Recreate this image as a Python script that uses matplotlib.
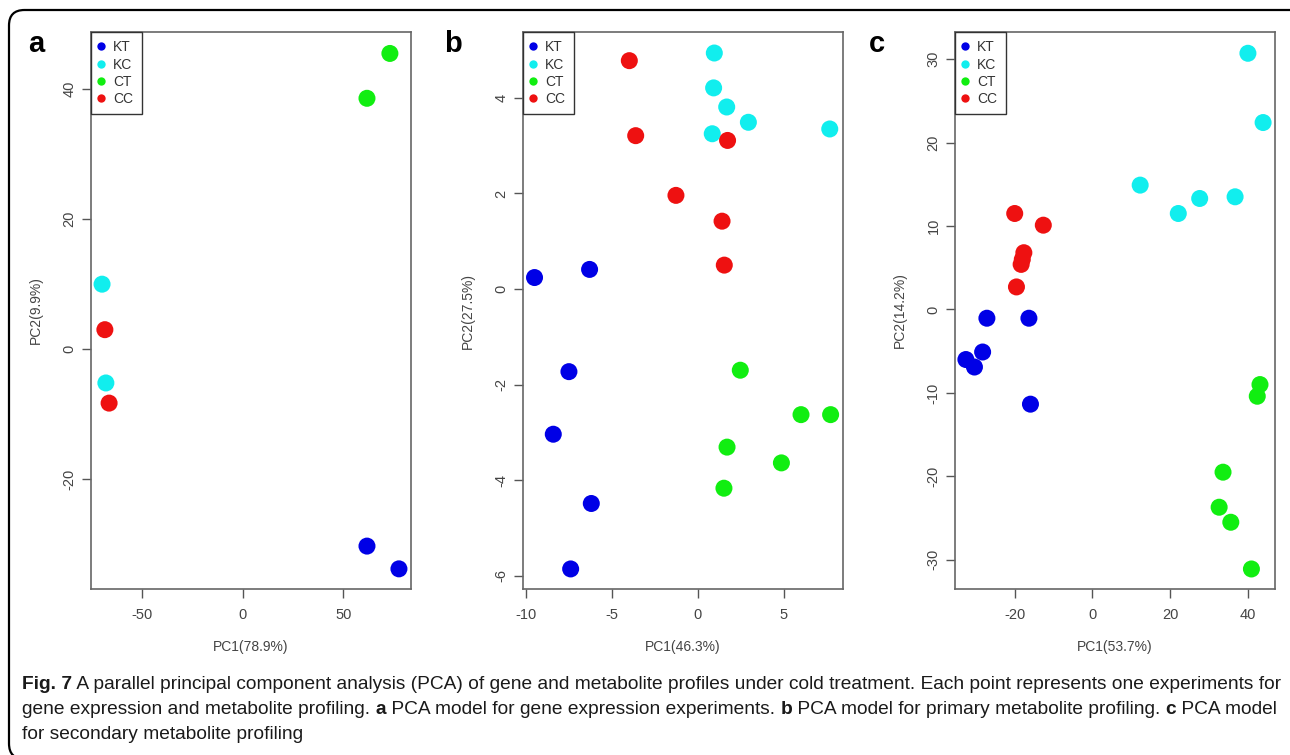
import matplotlib
matplotlib.use("Agg")
import matplotlib.pyplot as plt
from matplotlib.lines import Line2D
from matplotlib.patches import FancyBboxPatch

# data
groups = ["KT", "KC", "CT", "CC"]
colors = {"KT": "#0000E6", "KC": "#11EEEE", "CT": "#11EE11", "CC": "#EE1111"}

# panel a: gene expression
a_KT_x = [61.7, 77.6]
a_KT_y = [-30.3, -33.8]
a_KC_x = [-70.1, -68.2]
a_KC_y = [10.0, -5.2]
a_CT_x = [73.1, 61.7]
a_CT_y = [45.5, 38.6]
a_CC_x = [-68.7, -66.6]
a_CC_y = [3.0, -8.3]

# panel b: primary metabolites
b_KT_x = [-9.50, -6.30, -7.50, -8.41, -6.20, -7.40]
b_KT_y = [0.24, 0.41, -1.73, -3.04, -4.49, -5.86]
b_KC_x = [0.95, 0.91, 1.67, 2.93, 0.83, 7.66]
b_KC_y = [4.94, 4.21, 3.81, 3.49, 3.25, 3.35]
b_CT_x = [2.46, 5.99, 7.71, 1.69, 4.85, 1.51]
b_CT_y = [-1.70, -2.63, -2.63, -3.31, -3.64, -4.17]
b_CC_x = [-3.99, -3.62, 1.72, -1.28, 1.40, 1.53]
b_CC_y = [4.78, 3.21, 3.11, 1.96, 1.42, 0.50]

# panel c: secondary metabolites
c_KT_x = [-27.1, -16.3, -28.2, -32.5, -30.3, -15.9]
c_KT_y = [-1.05, -1.05, -5.1, -6.0, -6.9, -11.35]
c_KC_x = [40.0, 43.9, 12.3, 22.1, 27.6, 36.7]
c_KC_y = [30.7, 22.4, 14.9, 11.5, 13.3, 13.5]
c_CT_x = [43.1, 42.4, 33.6, 32.6, 35.6, 40.9]
c_CT_y = [-9.0, -10.4, -19.5, -23.7, -25.5, -31.1]
c_CC_x = [-19.95, -12.6, -17.6, -18.0, -18.3, -19.5]
c_CC_y = [11.5, 10.1, 6.8, 6.0, 5.4, 2.7]

panels = [
    ("a", {"KT": (a_KT_x, a_KT_y), "KC": (a_KC_x, a_KC_y), "CT": (a_CT_x, a_CT_y), "CC": (a_CC_x, a_CC_y)},
     "PC1(78.9%)", "PC2(9.9%)", (-75.6, 83.6), (-36.9, 48.8), [-50, 0, 50], [-20, 0, 20, 40]),
    ("b", {"KT": (b_KT_x, b_KT_y), "KC": (b_KC_x, b_KC_y), "CT": (b_CT_x, b_CT_y), "CC": (b_CC_x, b_CC_y)},
     "PC1(46.3%)", "PC2(27.5%)", (-10.17, 8.43), (-6.28, 5.38), [-10, -5, 0, 5], [-6, -4, -2, 0, 2, 4]),
    ("c", {"KT": (c_KT_x, c_KT_y), "KC": (c_KC_x, c_KC_y), "CT": (c_CT_x, c_CT_y), "CC": (c_CC_x, c_CC_y)},
     "PC1(53.7%)", "PC2(14.2%)", (-35.3, 46.96), (-33.5, 33.25), [-20, 0, 20, 40], [-30, -20, -10, 0, 10, 20, 30]),
]

caption = [
    [("Fig. 7", True), (" A parallel principal component analysis (PCA) of gene and metabolite profiles under cold treatment. Each point represents one experiments for", False)],
    [("gene expression and metabolite profiling. ", False), ("a", True), (" PCA model for gene expression experiments. ", False),
     ("b", True), (" PCA model for primary metabolite profiling. ", False), ("c", True), (" PCA model", False)],
    [("for secondary metabolite profiling", False)],
]

W, H = 1290, 755
fig = plt.figure(figsize=(W / 100, H / 100), dpi=100)
plt.rcParams['font.family'] = ['Liberation Sans', 'DejaVu Sans']

# rounded frame round the whole figure
frame = FancyBboxPatch((9 / W, -4 / H), (W + 30) / W, (H - 6) / H,
                       boxstyle="round,pad=0,rounding_size=0.012",
                       transform=fig.transFigure, fill=False,
                       edgecolor="black", linewidth=1.6, mutation_aspect=W / H)
fig.patches.append(frame)

lefts = [91, 523, 955]
labelx = [28, 444, 869]
for i, (tag, data, xlab, ylab, xlim, ylim, xt, yt) in enumerate(panels):
    ax = fig.add_axes([lefts[i] / W, (H - 589) / H, 320 / W, 557 / H])
    for g in groups:
        xs, ys = data[g]
        ax.scatter(xs, ys, s=150, color=colors[g], edgecolors="none", zorder=3)
    ax.set_xlim(*xlim)
    ax.set_ylim(*ylim)
    ax.set_xticks(xt)
    ax.set_yticks(yt)
    ax.set_xticklabels([str(v) for v in xt])
    ax.set_yticklabels([str(v) for v in yt], rotation=90, va="center")
    ax.tick_params(direction="out", length=6.5, width=1, color="#555555",
                   labelsize=10.5, labelcolor="#444444")
    ax.tick_params(axis="x", pad=7)
    ax.tick_params(axis="y", pad=4)
    for sp in ax.spines.values():
        sp.set_color("#666666")
        sp.set_linewidth(1.2)
    ax.set_xlabel(xlab, fontsize=10, color="#444444", labelpad=13)
    ax.set_ylabel(ylab, fontsize=10, color="#444444", labelpad=14)

    handles = [Line2D([], [], marker="o", linestyle="none", markersize=6,
                      markerfacecolor=colors[g], markeredgecolor="none") for g in groups]
    leg = ax.legend(handles, groups, loc="upper left", borderaxespad=0,
                    fancybox=False, edgecolor="#333333", framealpha=1,
                    fontsize=10, labelspacing=0.23, handletextpad=0.7,
                    handlelength=0.3, borderpad=0.6)
    for t in leg.get_texts():
        t.set_color("#333333")
    leg.get_frame().set_linewidth(1.0)
    leg.set_zorder(5)

    fig.text(labelx[i] / W, (H - 52) / H, tag, fontsize=21, fontweight="bold",
             ha="left", va="baseline")

# caption, bold pieces chained after regular ones
cax = fig.add_axes([0, 0, 1, 1])
cax.axis("off")
cax.set_xlim(0, W)
cax.set_ylim(H, 0)
bottoms = [693, 718, 743]
for parts, yb in zip(caption, bottoms):
    prev = None
    for txt, bold in parts:
        kw = dict(fontsize=13.8, fontweight="bold" if bold else "normal",
                  color="#1a1a1a", va="bottom", ha="left")
        if prev is None:
            prev = cax.annotate(txt, xy=(22, yb), xycoords="data", **kw)
        else:
            prev = cax.annotate(txt, xy=(1, 0), xycoords=prev, **kw)

fig.savefig("out.png", dpi=100)
